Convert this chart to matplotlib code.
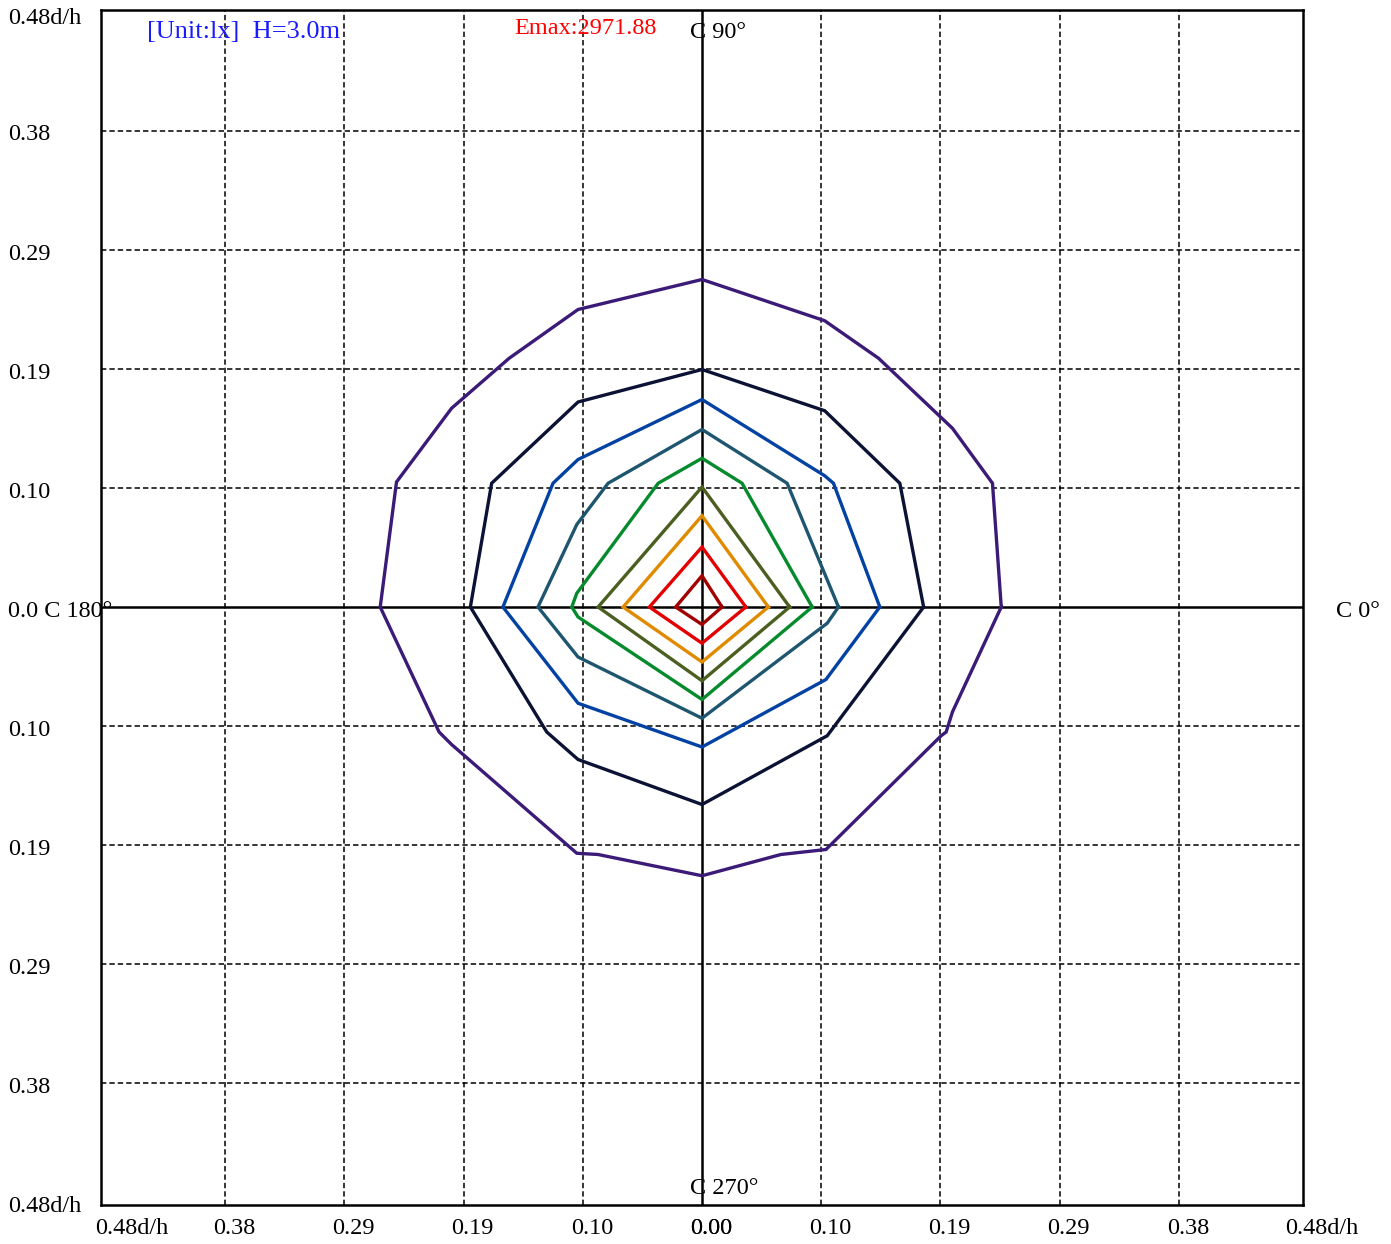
import numpy as np
from matplotlib import pyplot as plt
from matplotlib import transforms

plt.rcParams['font.family'] = ['Liberation Serif', 'DejaVu Sans']

# isolux contours in d/h units, listed counter-clockwise from C0
purple_x = [0.239, 0.232, 0.200, 0.141, 0.098, 0.0, -0.099, -0.154, -0.200, -0.244, -0.257,
            -0.210, -0.200, -0.100, -0.083, 0.0, 0.063, 0.099, 0.191, 0.195, 0.200]
purple_y = [0.0, 0.099, 0.143, 0.199, 0.229, 0.262, 0.238, 0.199, 0.159, 0.100, 0.0,
            -0.100, -0.110, -0.197, -0.198, -0.215, -0.198, -0.194, -0.103, -0.100, -0.084]
navy_x = [0.177, 0.158, 0.098, 0.0, -0.099, -0.168, -0.185, -0.124, -0.099, 0.0, 0.100]
navy_y = [0.0, 0.099, 0.157, 0.190, 0.164, 0.099, 0.0, -0.100, -0.122, -0.158, -0.103]
blue_x = [0.142, 0.105, 0.098, 0.0, -0.099, -0.119, -0.159, -0.099, 0.0, 0.099]
blue_y = [0.0, 0.099, 0.105, 0.166, 0.118, 0.099, 0.0, -0.077, -0.112, -0.058]
teal_x = [0.109, 0.068, 0.0, -0.075, -0.100, -0.131, -0.099, 0.0, 0.100]
teal_y = [0.0, 0.099, 0.142, 0.099, 0.066, 0.0, -0.040, -0.089, -0.013]
green_x = [0.088, 0.032, 0.0, -0.035, -0.100, -0.104, -0.099, 0.0]
green_y = [0.0, 0.099, 0.119, 0.099, 0.011, 0.0, -0.008, -0.074]
olive_x = [0.070, 0.0, -0.083, 0.0]
olive_y = [0.0, 0.096, 0.0, -0.059]
orange_x = [0.053, 0.0, -0.063, 0.0]
orange_y = [0.0, 0.073, 0.0, -0.044]
red_x = [0.035, 0.0, -0.042, 0.0]
red_y = [0.0, 0.048, 0.0, -0.029]
darkred_x = [0.016, 0.0, -0.021, 0.0]
darkred_y = [0.0, 0.025, 0.0, -0.014]

contours = [
    (purple_x, purple_y, '#3c1a78'),
    (navy_x, navy_y, '#0b1234'),
    (blue_x, blue_y, '#0342a3'),
    (teal_x, teal_y, '#1e5670'),
    (green_x, green_y, '#058a2c'),
    (olive_x, olive_y, '#4b5f20'),
    (orange_x, orange_y, '#e08a00'),
    (red_x, red_y, '#e30000'),
    (darkred_x, darkred_y, '#a20000'),
]

step = 0.0952
lim = 0.48
grid_vals = [step * k for k in range(1, 5)]
grid_labels = ['0.10', '0.19', '0.29', '0.38']

fig = plt.figure(figsize=(13.91, 12.44), dpi=100)
ax = fig.add_axes([101 / 1391, 39 / 1244, 1202 / 1391, 1195 / 1244])
ax.set_xlim(-lim, lim)
ax.set_ylim(-0.4784, 0.4776)
ax.set_xticks([])
ax.set_yticks([])
for s in ax.spines.values():
    s.set_linewidth(1.8)

for g in grid_vals:
    for v in (g, -g):
        ax.axvline(v, color='black', lw=1.1, ls=(0, (3.5, 2)), zorder=1)
        ax.axhline(v, color='black', lw=1.1, ls=(0, (3.5, 2)), zorder=1)
ax.axvline(0, color='black', lw=1.8, zorder=2)
ax.axhline(0, color='black', lw=1.8, zorder=2)

for xs, ys, c in contours:
    ax.plot(xs + xs[:1], ys + ys[:1], color=c, lw=2.4, zorder=3, solid_joinstyle='miter')

fs = 17.5
px = lambda dx, dy: transforms.ScaledTranslation(dx / 100, dy / 100, fig.dpi_scale_trans)
ytop, ybot = ax.get_ylim()[1], ax.get_ylim()[0]

# y labels at the left of the figure
ylab_x = (8 - 101) / 1202 * 2 * lim - lim
ytrans = ax.transData + px(0, -4)
ax.text(ylab_x, ytop, '0.48d/h', ha='left', va='center', fontsize=fs,
        transform=ax.transData + px(0, -8), clip_on=False)
ax.text(ylab_x, ybot, '0.48d/h', ha='left', va='center', fontsize=fs,
        transform=ax.transData + px(0, -2), clip_on=False)
ax.text(ylab_x, 0, '0.0 C 180°', ha='left', va='center', fontsize=fs, transform=ytrans, clip_on=False)
for g, lab in zip(grid_vals, grid_labels):
    ax.text(ylab_x, g, lab, ha='left', va='center', fontsize=fs, transform=ytrans, clip_on=False)
    ax.text(ylab_x, -g, lab, ha='left', va='center', fontsize=fs, transform=ytrans, clip_on=False)

# x labels below the axes
xtrans = ax.transData + px(9, -23)
ax.text(0, ybot, '0.00', ha='center', va='center', fontsize=fs, transform=xtrans, clip_on=False)
ax.text(0, ybot, '0.00', ha='center', va='center', fontsize=fs,
        transform=ax.transData + px(9.5, -23), clip_on=False)
for g, lab in zip(grid_vals, grid_labels):
    ax.text(g, ybot, lab, ha='center', va='center', fontsize=fs, transform=xtrans, clip_on=False)
    ax.text(-g, ybot, lab, ha='center', va='center', fontsize=fs, transform=xtrans, clip_on=False)
ax.text(-lim, ybot, '0.48d/h', ha='center', va='center', fontsize=fs,
        transform=ax.transData + px(31, -23), clip_on=False)
ax.text(lim, ybot, '0.48d/h', ha='center', va='center', fontsize=fs,
        transform=ax.transData + px(19, -23), clip_on=False)

# C-plane labels
ax.text(0, ytop, 'C 90°', ha='left', va='center', fontsize=fs,
        transform=ax.transData + px(-12, -23), clip_on=False)
ax.text(0, ybot, 'C 270°', ha='left', va='center', fontsize=fs,
        transform=ax.transData + px(-12, 16), clip_on=False)
ax.text(lim, 0, 'C 0°', ha='left', va='center', fontsize=fs,
        transform=ax.transData + px(33, -4), clip_on=False)

ax.text(-lim, ytop, '[Unit:lx]  H=3.0m', ha='left', va='center', fontsize=19,
        color='#1a1aff', transform=ax.transData + px(46, -22), clip_on=False)
ax.text(-lim, ytop, 'Emax:2971.88', ha='left', va='center', fontsize=17.5,
        color='#ff0000', transform=ax.transData + px(413, -18), clip_on=False)

fig.savefig('out.png', dpi=100)
